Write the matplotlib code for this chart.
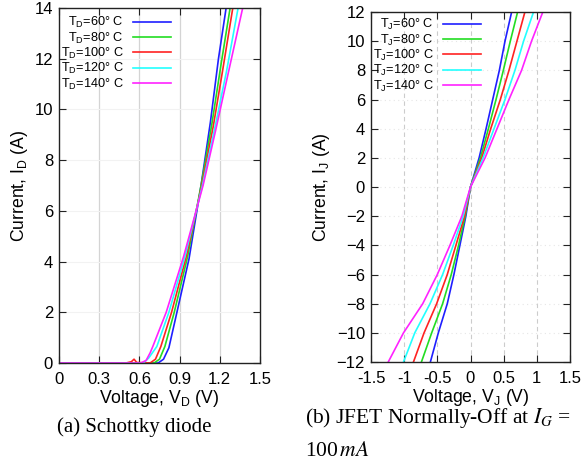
import matplotlib
matplotlib.use("Agg")
import matplotlib.pyplot as plt

# ---------------- data ----------------
temps = [60, 80, 100, 120, 140]
colors = ['#1f1fff', '#22dd22', '#ff2222', '#22ffff', '#ff22ff']

# (a) Schottky diode: voltage (V) / current (A) per temperature
diode_v = [
    [0, 0.50, 0.74, 0.78, 0.82, 0.88, 0.97, 1.06, 1.13, 1.19, 1.25],
    [0, 0.50, 0.71, 0.75, 0.79, 0.86, 0.96, 1.06, 1.14, 1.21, 1.28],
    [0, 0.50, 0.54, 0.56, 0.58, 0.68, 0.72, 0.76, 0.84, 0.95, 1.065, 1.15, 1.22, 1.30],
    [0, 0.50, 0.63, 0.67, 0.73, 0.82, 0.94, 1.07, 1.16, 1.25, 1.34],
    [0, 0.50, 0.61, 0.65, 0.68, 0.70, 0.80, 0.93, 1.075, 1.17, 1.27, 1.375],
]
diode_i = [
    [0, 0, 0, 0.15, 0.60, 2.0, 4.1, 7.0, 9.5, 12.0, 14.1],
    [0, 0, 0, 0.15, 0.65, 2.0, 4.2, 7.0, 9.4, 11.8, 14.1],
    [0, 0, 0.05, 0.15, 0.02, 0, 0.15, 0.65, 2.0, 4.2, 7.0, 9.3, 11.5, 14.1],
    [0, 0, 0, 0.20, 0.65, 2.0, 4.2, 7.0, 9.2, 11.5, 14.1],
    [0, 0, 0, 0.10, 0.40, 0.65, 2.0, 4.2, 7.0, 9.2, 11.6, 14.1],
]

# (b) JFET: current (A) / voltage (V) per temperature
jfet_i = [-12, -10, -8, -6, -4, -2, 0, 2, 4, 6, 8, 10, 12]
jfet_v = [
    [-0.605, -0.485, -0.35, -0.25, -0.16, -0.07, 0.0, 0.13, 0.235, 0.335, 0.435, 0.52, 0.62],
    [-0.74, -0.585, -0.42, -0.29, -0.18, -0.08, 0.0, 0.15, 0.27, 0.385, 0.495, 0.60, 0.71],
    [-0.86, -0.70, -0.51, -0.35, -0.22, -0.09, 0.0, 0.17, 0.305, 0.45, 0.58, 0.70, 0.82],
    [-1.01, -0.84, -0.61, -0.42, -0.26, -0.11, 0.0, 0.19, 0.355, 0.52, 0.67, 0.80, 0.95],
    [-1.24, -1.01, -0.72, -0.50, -0.31, -0.13, 0.0, 0.22, 0.40, 0.58, 0.77, 0.92, 1.09],
]

diode_xticks = [0, 0.3, 0.6, 0.9, 1.2, 1.5]
diode_xticklabels = ['0', '0.3', '0.6', '0.9', '1.2', '1.5']
diode_yticks = [0, 2, 4, 6, 8, 10, 12, 14]
jfet_xticks = [-1.5, -1, -0.5, 0, 0.5, 1, 1.5]
jfet_xticklabels = ['-1.5', '-1', '-0.5', '0', '0.5', '1', '1.5']
jfet_yticks = [-12, -10, -8, -6, -4, -2, 0, 2, 4, 6, 8, 10, 12]

# ---------------- figure ----------------
plt.rcParams['font.family'] = ['Liberation Sans', 'DejaVu Sans']
W, H = 583, 466
fig = plt.figure(figsize=(W / 100, H / 100), dpi=100)


def px_axes(x0, y0, x1, y1):
    return fig.add_axes([x0 / W, 1 - y1 / H, (x1 - x0) / W, (y1 - y0) / H])


def style(ax):
    for s in ax.spines.values():
        s.set_color('#222222')
        s.set_linewidth(1.0)
    ax.tick_params(direction='in', length=5, width=0.8, top=True, right=True,
                   labelsize=12, colors='#222222', labelcolor='black')
    ax.tick_params(axis='x', pad=6.5)
    ax.tick_params(axis='y', pad=4.3)


def legend(ax, top):
    ax.legend(loc='upper left', frameon=False, markerfirst=False, fontsize=9.2,
              handlelength=3.0, handletextpad=0.7, labelspacing=0.02,
              borderaxespad=0.0, borderpad=0.0, bbox_to_anchor=(0.01, top))


axA = px_axes(59, 8, 260, 363)
for v, i, t, c in zip(diode_v, diode_i, temps, colors):
    axA.plot(v, i, color=c, lw=1.2, label=r'T$_\mathregular{D}$=%d° C' % t)
axA.set_xlim(0, 1.5)
axA.set_ylim(0, 14)
axA.set_xticks(diode_xticks)
axA.set_xticklabels(diode_xticklabels)
axA.set_yticks(diode_yticks)
style(axA)
for x in diode_xticks[1:-1]:
    axA.axvline(x, color='#d4d4d4', lw=0.9, zorder=0)
for y in diode_yticks[1:-1]:
    axA.axhline(y, color='#f2f2f2', lw=0.8, zorder=0)
axA.set_xlabel(r'Voltage, V$_\mathregular{D}$ (V)', fontsize=12.7, labelpad=0.5)
axA.set_ylabel(r'Current, I$_\mathregular{D}$ (A)', fontsize=12.7, labelpad=3)
legend(axA, 0.98)

axB = px_axes(371, 12, 570, 362)
for v, t, c in zip(jfet_v, temps, colors):
    axB.plot(v, jfet_i, color=c, lw=1.2, label=r'T$_\mathregular{J}$=%d° C' % t)
axB.set_xlim(-1.5, 1.5)
axB.set_ylim(-12, 12)
axB.set_xticks(jfet_xticks)
axB.set_xticklabels(jfet_xticklabels)
axB.set_yticks(jfet_yticks)
style(axB)
for x in jfet_xticks[1:-1]:
    axB.axvline(x, color='#cccccc', lw=0.8, ls=(0, (4, 3)), zorder=0)
for y in jfet_yticks[1:-1]:
    axB.axhline(y, color='#e6e6e6', lw=0.8, ls=(0, (1, 3)), zorder=0)
axB.set_xlabel(r'Voltage, V$_\mathregular{J}$ (V)', fontsize=12.7, labelpad=0.5)
axB.set_ylabel(r'Current, I$_\mathregular{J}$ (A)', fontsize=12.7, labelpad=3.5)
legend(axB, 0.985)

# captions
fig.text(57 / W, 1 - 427 / H, '(a) Schottky diode', family='Liberation Serif',
         fontsize=15, ha='left', va='center')
fig.text(305 / W, 1 - 418 / H, r'(b) JFET Normally-Off at $I_G$ =',
         family='Liberation Serif', math_fontfamily='stix',
         fontsize=15.5, ha='left', va='center')
fig.text(305 / W, 1 - 451 / H, r'100$\,mA$', family='Liberation Serif',
         math_fontfamily='stix', fontsize=15.5, ha='left', va='center')

fig.savefig('out.png', dpi=100)
